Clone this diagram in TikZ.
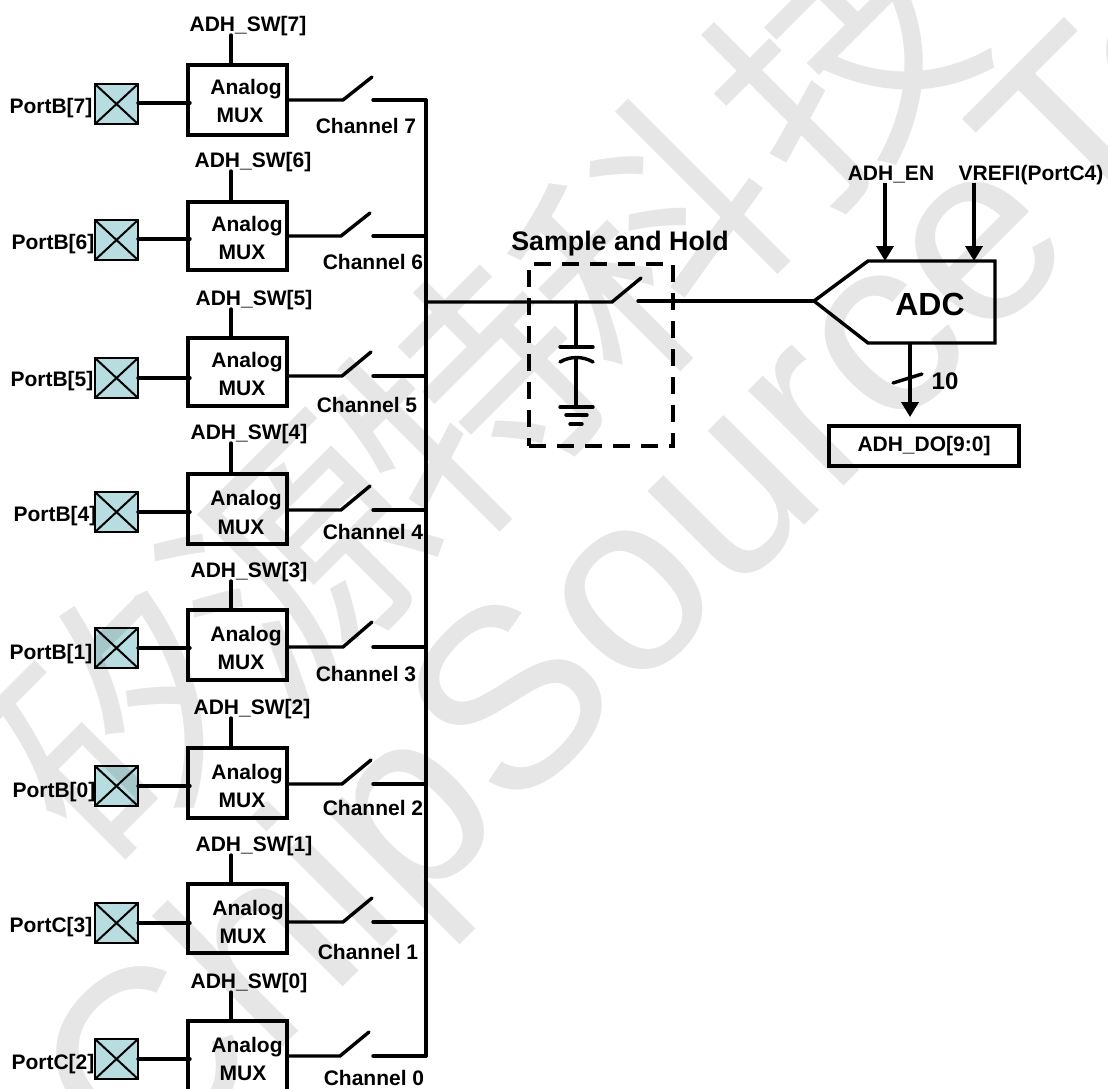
\documentclass[tikz,border=0pt]{standalone}
\usepackage{fontspec}
\setmainfont{Liberation Sans}
\newfontfamily\cjkwm{Noto Sans CJK SC}
\usetikzlibrary{arrows.meta}
\definecolor{padfill}{HTML}{B7DDE0}
\definecolor{wmark}{HTML}{E6E6E6}
\tikzset{
  lbl/.style={font=\fontsize{21}{21}\selectfont\bfseries,inner sep=0pt,outer sep=0pt,anchor=center,yshift=-2pt},
  muxbox/.style={draw,line width=3.4pt,inner sep=0,outer sep=0,anchor=north west,minimum width=99pt},
  padbox/.style={draw,line width=2pt,fill=padfill,inner sep=0,outer sep=0,anchor=north west,minimum width=43pt,minimum height=40pt},
  wire/.style={line width=3.4pt,line cap=round},
  thinwire/.style={line width=2pt},
  arrowwire/.style={line width=3.6pt,-{Triangle[length=15pt,width=17pt]}},
  wmc/.style={text=wmark,inner sep=0,font=\cjkwm\fontsize{250}{250}\selectfont,rotate=45},
  wml/.style={text=wmark,inner sep=0,font=\fontsize{255}{255}\selectfont,rotate=45,anchor=base west},
}
\begin{document}
\begin{tikzpicture}[x=1pt,y=-1pt]
\clip (0,0) rectangle (1108,1088);
\fill[white] (0,0) rectangle (1108,1088);
% rows: i/port/top/height/padtop/inY/outY/armx/army/swx/swy/ptx/pty/ax/ay/mx/my/chx/chy/chan
\foreach \i/\port/\tp/\mh/\pad/\iny/\outy/\armx/\army/\swx/\swy/\ptx/\pty/\ax/\ay/\mx/\my/\chx/\chy/\chn in {
 7/PortB[7]/65/70/84/103/100/372/77/248/24/51/106/246/87/240/113/366/124/7,
 6/PortB[6]/202/68/220/239/236/370/213/253/160/53/242/247/224/242/250/373/260/6,
 5/PortB[5]/338/68/358/378/376/371/352/254/298/52/379/247/360/242/386/367/403/5,
 4/PortB[4]/474/70/492/512/510/370/486/249/432/55/514/246/498/241/525/373/530/4,
 3/PortB[1]/610/70/628/648/647/372/622/249/570/51/652/246/634/241/660/366/672/3,
 2/PortB[0]/748/70/766/786/784/371/760/252/707/54/790/247/772/242/798/373/806/2,
 1/PortC[3]/884/69/903/923/922/372/898/254/844/51/925/248/908/243/934/368/950/1,
 0/PortC[2]/1021/80/1039/1059/1056/369/1032/249/981/53/1062/247/1045/243/1071/374/1076/0}{
  \node[muxbox,minimum height=\mh pt] (mux\i) at (188,\tp) {};
  \node[padbox] (pad\i) at (95,\pad) {};
  \draw[thinwire] (pad\i.north west) -- (pad\i.south east);
  \draw[thinwire] (pad\i.north east) -- (pad\i.south west);
  \node[lbl] (sw\i) at (\swx,\swy) {ADH\_SW[\i]};
  \node[lbl] (port\i) at (\ptx,\pty) {\port};
  \node[lbl] (an\i) at (\ax,\ay) {Analog};
  \node[lbl] (mu\i) at (\mx,\my) {MUX};
  \node[lbl] (ch\i) at (\chx,\chy) {Channel \chn};
  \coordinate (swt\i) at (231,\swy+11);
  \coordinate (muxt\i) at (231,\tp);
  \coordinate (padout\i) at (138,\iny);
  \coordinate (muxin\i) at (190,\iny);
  \coordinate (muxout\i) at (287,\outy);
  \coordinate (hinge\i) at (\armx-29,\outy);
  \coordinate (tip\i) at (\armx,\army);
  \coordinate (cont\i) at (373,\outy);
  \coordinate (bus\i) at (426,\outy);
  \draw[wire] (swt\i) -- (muxt\i);
  \draw[wire] (padout\i) -- (muxin\i);
  \draw[wire] (muxout\i) -- (hinge\i) -- (tip\i);
  \draw[wire] (cont\i) -- (bus\i);
}
\draw[wire] (bus7) -- (bus0);
% sample and hold
\node[lbl,font=\fontsize{26.8}{27}\selectfont\bfseries] (sh) at (620,242) {Sample and Hold};
\coordinate (shn) at (426,302);
\coordinate (shh) at (612,302);
\coordinate (sht) at (641,278);
\coordinate (shc) at (638,301);
\coordinate (adctip) at (814,301);
\coordinate (capt) at (576,302);
\coordinate (capa) at (576,347);
\coordinate (capb) at (576,358);
\coordinate (gnd) at (576,407);
\draw[wire] (shn) -- (shh) -- (sht);
\draw[wire] (shc) -- (adctip);
\draw[wire] (capt) -- (capa);
\draw[wire] (capb) -- (gnd);
\draw[wire] (560,347) -- (593,347);
\draw[wire] (560,362) .. controls (570,356) and (583,356) .. (593,362);
\draw[wire] (560,407) -- (593,407);
\draw[wire] (566,415) -- (587,415);
\draw[wire] (570,424) -- (582,424);
\node[draw,dash pattern=on 17pt off 11pt,line width=4pt,inner sep=0,outer sep=0,anchor=north west,minimum width=144pt,minimum height=182pt] (shbox) at (529,264) {};
% ADC
\coordinate (adctl) at (868,261);
\coordinate (adctr) at (995,261);
\coordinate (adcbr) at (995,343);
\coordinate (adcbl) at (868,343);
\draw[wire,line join=miter] (adctip) -- (adctl) -- (adctr) -- (adcbr) -- (adcbl) -- (adctip);
\node[lbl,font=\fontsize{32}{32}\selectfont\bfseries,yshift=2pt] (adc) at (930,304) {ADC};
\node[lbl] (en) at (891,173) {ADH\_EN};
\node[lbl] (vref) at (1031,173) {VREFI(PortC4)};
\coordinate (ens) at (885,183);
\coordinate (ene) at (885,261);
\coordinate (vrs) at (974,183);
\coordinate (vre) at (974,261);
\draw[arrowwire] (ens) -- (ene);
\draw[arrowwire] (vrs) -- (vre);
\node[draw,line width=3.4pt,inner sep=0,outer sep=0,minimum width=190pt,minimum height=40pt,anchor=north west,font=\fontsize{21}{21}\selectfont\bfseries] (do) at (829,426) {ADH\_DO[9:0]};
\coordinate (adco) at (910,343);
\coordinate (doin) at (910,417);
\draw[arrowwire] (adco) -- (doin);
\coordinate (sla) at (893,383);
\coordinate (slb) at (922,374);
\draw[wire] (sla) -- (slb);
\node[lbl,font=\fontsize{24}{24}\selectfont\bfseries,yshift=2pt] (ten) at (945,381) {10};
% watermark, laid over the drawing
\begin{scope}[blend mode=multiply]
\node[wmc] (w1) at (120,720) {矽};
\node[wmc] (w2) at (300,560) {源};
\node[wmc] (w3) at (470,400) {特};
\node[wmc] (w4) at (650,240) {科};
\node[wmc] (w5) at (840,60) {技};
\node[wml] (w6) at (140,1190) {ChipSourceTek};
\end{scope}
\end{tikzpicture}
\end{document}
